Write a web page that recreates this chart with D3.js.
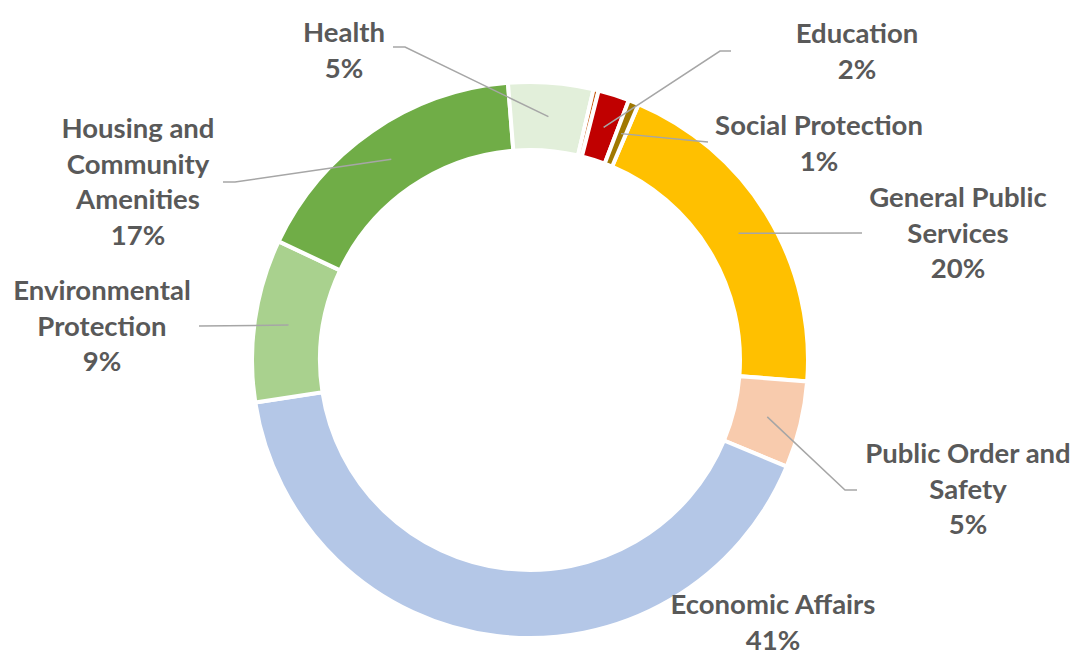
<!DOCTYPE html>
<html>
<head>
	<meta charset="UTF-8" />
	<title>spending by function</title>
	<script src="https://d3js.org/d3.v7.min.js"></script>
	<style>
		body { margin: 0; background: #fff; }
		text { font-family: Lato, "Open Sans", sans-serif; font-weight: bold; fill: #595959; }
	</style>
</head>
<body>
	<svg id="chart" width="1073" height="655"></svg>

	<script type="text/javascript">

	// data, clockwise from the General Public Services slice
	var categories = ["General Public Services", "Public Order and Safety", "Economic Affairs",
		"Environmental Protection", "Housing and Community Amenities", "Health",
		"Other", "Education", "Social Protection"]
	var values = [19.7, 5.0, 41.0, 9.4, 16.6, 4.9, 0.3, 1.8, 0.6]
	var colors = ["#FFC000", "#F8CBAD", "#B4C7E7", "#A9D18E", "#70AD47", "#E2EFDA",
		"#C55A11", "#C00000", "#A07800"]

	// label text lines (last line gets the percent)
	var labelLines = [
		["General Public", "Services"],
		["Public Order and", "Safety"],
		["Economic Affairs"],
		["Environmental", "Protection"],
		["Housing and", "Community", "Amenities"],
		["Health"],
		null,
		["Education"],
		["Social Protection"]
	]

	// label placement: text centre x, first baseline y, leader elbow + end (null = no leader)
	var labelPos = [
		{x: 958, y: 207, elbow: [862, 233], end: [862, 233]},
		{x: 968, y: 463, elbow: [845, 490], end: [857, 490]},
		{x: 773, y: 614, elbow: null, end: null},
		{x: 102, y: 300, elbow: [199, 326], end: [199, 326]},
		{x: 138, y: 138, elbow: [235, 182], end: [223, 182]},
		{x: 344, y: 42, elbow: [405, 47], end: [393, 47]},
		null,
		{x: 857, y: 43, elbow: [720, 51], end: [731, 51]},
		{x: 819, y: 135, elbow: [697, 141], end: [708, 142]}
	]

	var cx = 530, cy = 360
	var outerR = 278, innerR = 210
	var lineH = 35.5
	var startDeg = 23

	var svg = d3.select("#chart")
	var g = svg.append("g").attr("transform", "translate(" + cx + "," + cy + ")")

	var total = d3.sum(values)
	var rows = categories.map((c, i) => ({name: c, value: values[i], color: colors[i], lines: labelLines[i], pos: labelPos[i]}))

	var pie = d3.pie()
		.sort(null)
		.value(d => d.value)
		.startAngle(startDeg * Math.PI / 180)
		.endAngle(startDeg * Math.PI / 180 + 2 * Math.PI)

	var arc = d3.arc().innerRadius(innerR).outerRadius(outerR)
	var midArc = d3.arc().innerRadius((innerR + outerR) / 2).outerRadius((innerR + outerR) / 2)

	var arcs = pie(rows)

	g.selectAll("path.slice")
		.data(arcs)
		.enter()
		.append("path")
		.attr("class", "slice")
		.attr("d", arc)
		.attr("fill", d => d.data.color)
		.attr("stroke", "#fff")
		.attr("stroke-width", 4)
		.attr("stroke-linejoin", "miter")

	// leader lines
	var labelled = arcs.filter(d => d.data.pos)
	g.selectAll("polyline.leader")
		.data(labelled.filter(d => d.data.pos.elbow))
		.enter()
		.append("polyline")
		.attr("class", "leader")
		.attr("points", d => {
			var c = midArc.centroid(d)
			var p = d.data.pos
			return [c, [p.elbow[0] - cx, p.elbow[1] - cy], [p.end[0] - cx, p.end[1] - cy]].map(q => q.join(",")).join(" ")
		})
		.attr("fill", "none")
		.attr("stroke", "#A6A6A6")
		.attr("stroke-width", 1.5)

	// labels
	var fmt = d3.format(".0%")
	var labels = svg.selectAll("text.lbl")
		.data(labelled)
		.enter()
		.append("text")
		.attr("class", "lbl")
		.attr("text-anchor", "middle")
		.style("font-size", "27.5px")

	labels.each(function(d) {
		var t = d3.select(this)
		var lines = d.data.lines.concat([fmt(d.data.value / total)])
		lines.forEach((s, k) => {
			t.append("tspan")
				.attr("x", d.data.pos.x)
				.attr("y", d.data.pos.y + k * lineH)
				.text(s)
		})
	})

	</script>
</body>
</html>
